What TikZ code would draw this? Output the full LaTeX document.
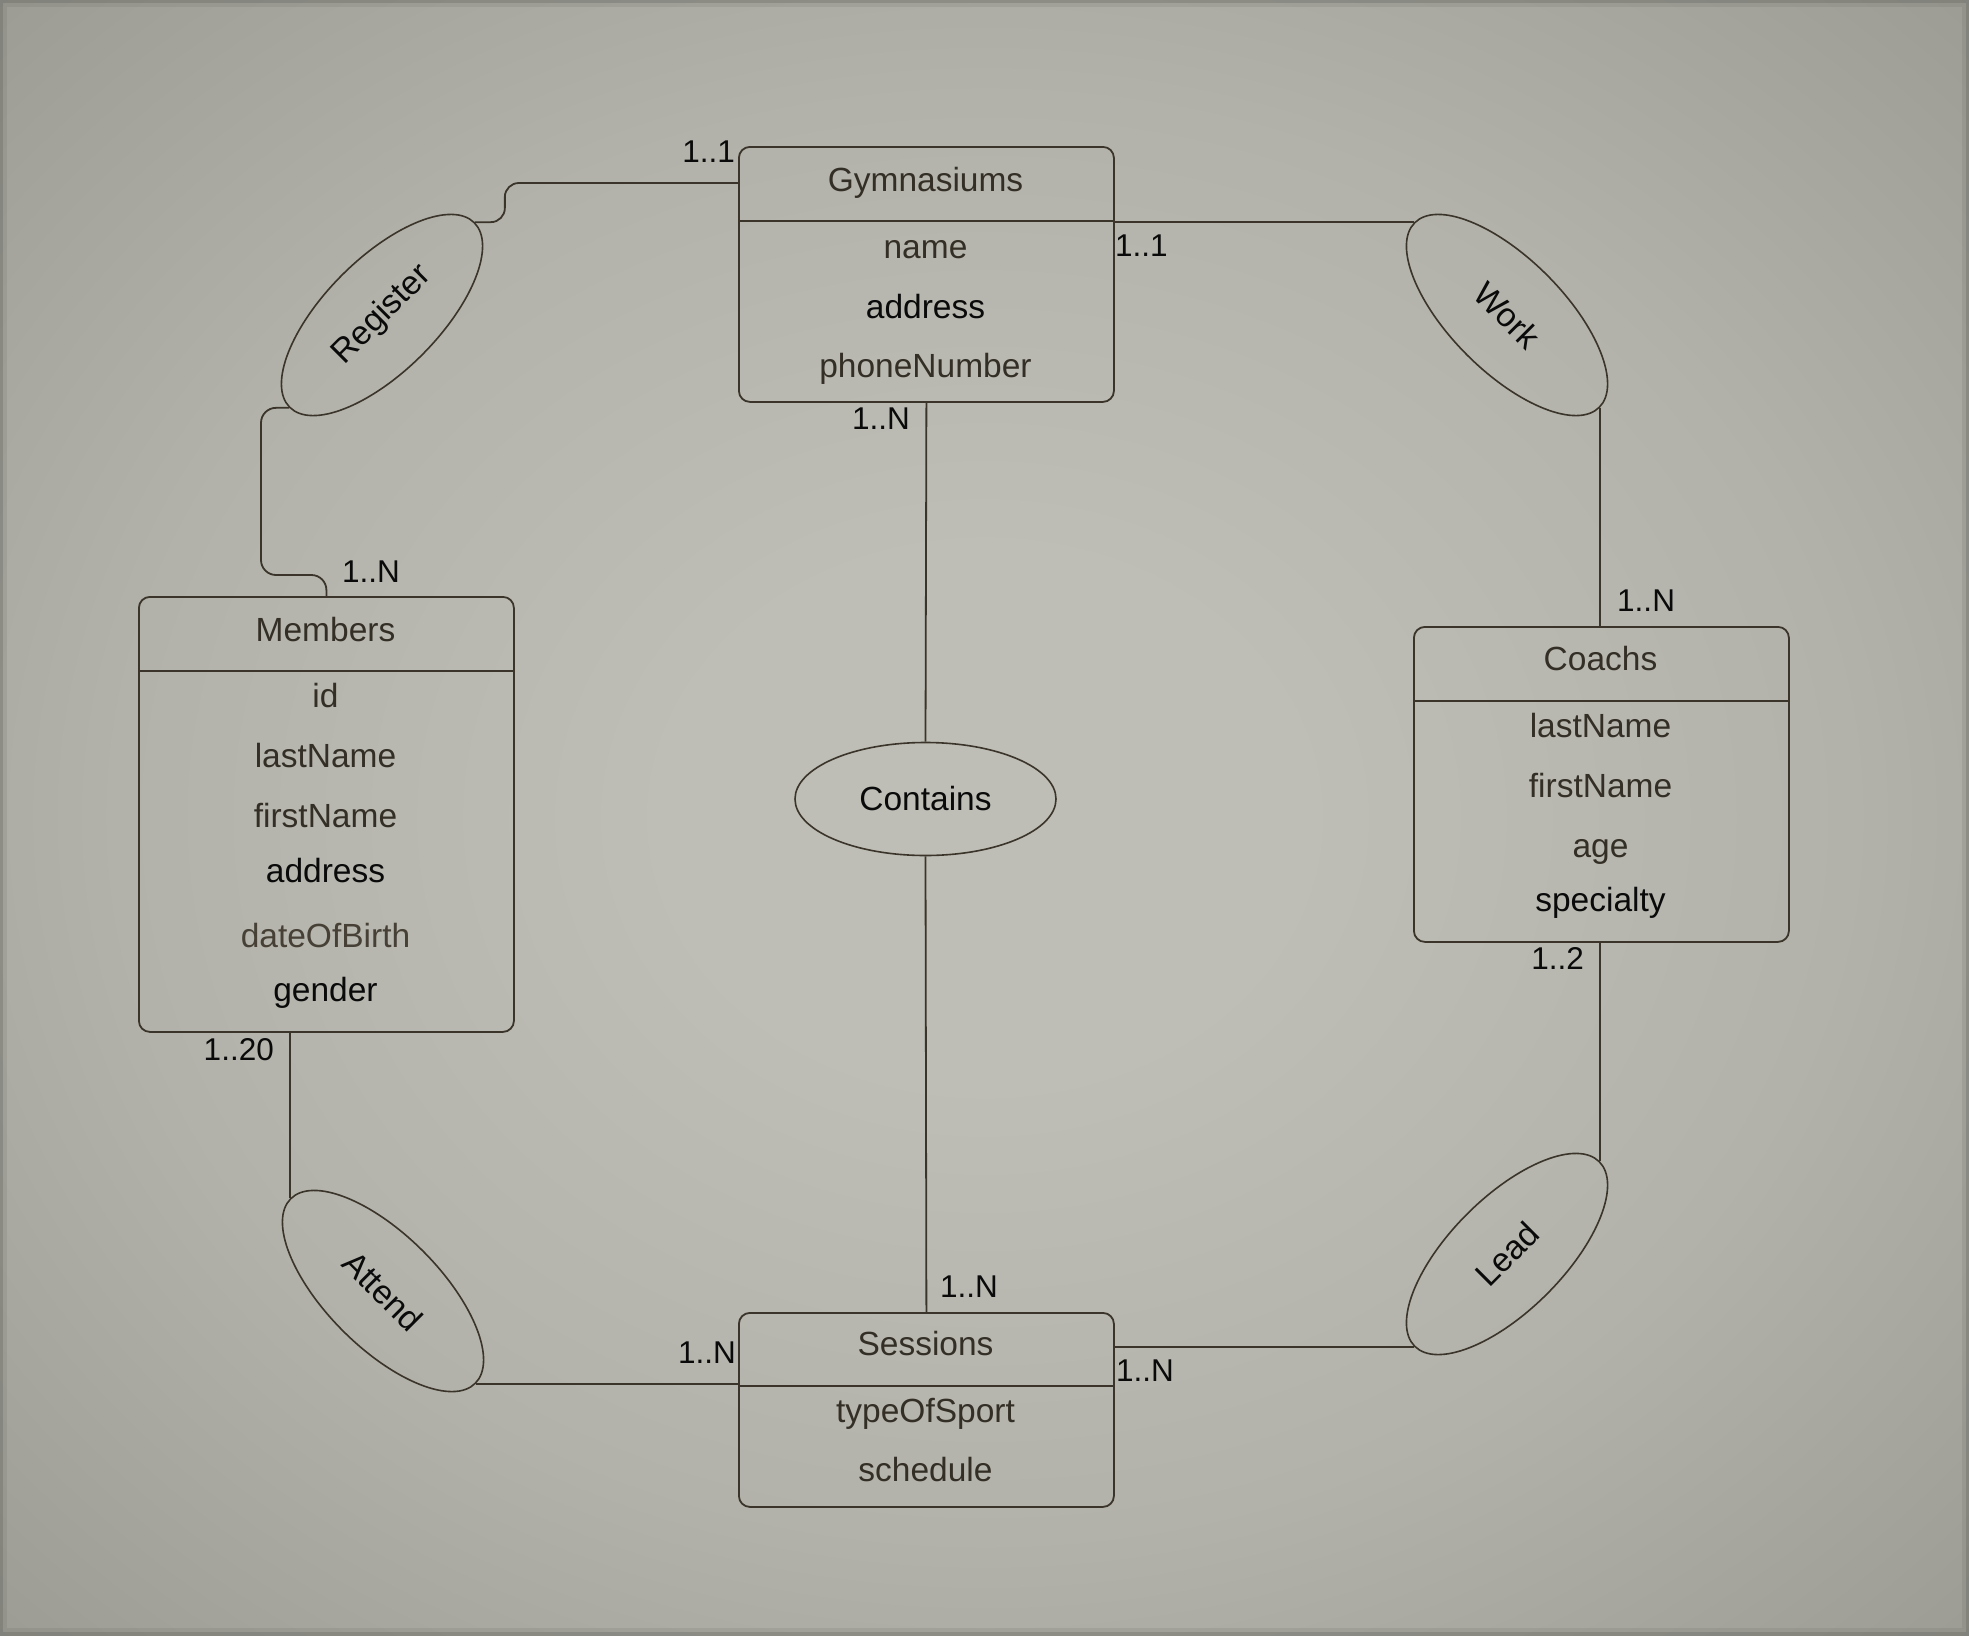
\documentclass[tikz,border=0pt]{standalone}
\usepackage{fontspec}
\setmainfont{Liberation Sans}
\usetikzlibrary{shapes.geometric,calc}

\definecolor{bgin}{RGB}{190,190,182}
\definecolor{bgmid}{RGB}{178,178,170}
\definecolor{bgedge}{RGB}{157,157,149}
\definecolor{bgout}{RGB}{120,120,114}
\definecolor{edgecol}{RGB}{95,95,90}
\definecolor{ink}{RGB}{58,52,42}
\definecolor{txtb}{RGB}{52,47,38}
\definecolor{txtk}{RGB}{10,10,10}
\definecolor{txtl}{RGB}{70,64,54}

\pgfdeclareradialshading{vignette}{\pgfpoint{0bp}{0bp}}{color(0bp)=(bgin); color(8bp)=(bgin); color(22bp)=(bgmid); color(35bp)=(bgedge); color(50bp)=(bgout)}

\begin{document}
\begin{tikzpicture}[x=1pt,y=-1pt,
  entity/.style={draw=ink, line width=1.8pt, rounded corners=11, minimum width=375, minimum height=#1, inner sep=0, anchor=north west},
  attr/.style={anchor=base, inner sep=0, font=\fontsize{33.5pt}{40pt}\selectfont, text=txtb},
  rel/.style={draw=ink, line width=1.6pt, ellipse, minimum width=261, minimum height=113, inner sep=0, font=\fontsize{33.5pt}{40pt}\selectfont, text=txtk},
  conn/.style={draw=ink, line width=1.8pt},
  divider/.style={draw=ink, line width=1.8pt},
  card/.style={inner sep=0, font=\fontsize{31.5pt}{36pt}\selectfont, text=txtk}]

% backdrop
\useasboundingbox (0,0) rectangle (1969,1635);
\shade[shading=vignette] (0,0) rectangle (1969,1635);
\draw[edgecol, line width=14, opacity=0.15] (0,0) rectangle (1969,1635);
\draw[edgecol, line width=6, opacity=0.3] (0,0) rectangle (1969,1635);

% entities
\node[entity=255] (gym) at (738,146) {};
\node[entity=435] (mem) at (138,596) {};
\node[entity=315] (coa) at (1413,626) {};
\node[entity=194] (ses) at (738,1312) {};

\draw[divider] ($(gym.north west)+(0,75)$) -- ($(gym.north east)+(0,75)$);
\draw[divider] ($(mem.north west)+(0,75)$) -- ($(mem.north east)+(0,75)$);
\draw[divider] ($(coa.north west)+(0,75)$) -- ($(coa.north east)+(0,75)$);
\draw[divider] ($(ses.north west)+(0,74)$) -- ($(ses.north east)+(0,74)$);

% Gymnasiums
\node[attr] (gymT) at (925.5,191) {Gymnasiums};
\node[attr] (gymA) at (925.5,258) {name};
\node[attr, text=txtk] (gymB) at (925.5,318) {address};
\node[attr] (gymC) at (925.5,377) {phoneNumber};

% Members
\node[attr] (memT) at (325.5,641) {Members};
\node[attr] (memA) at (325.5,707.7) {id};
\node[attr] (memB) at (325.5,767.7) {lastName};
\node[attr] (memC) at (325.5,827.7) {firstName};
\node[attr, text=txtk] (memD) at (325.5,882.7) {address};
\node[attr, text=txtl] (memE) at (325.5,947.7) {dateOfBirth};
\node[attr, text=txtk] (memF) at (325.5,1001.7) {gender};

% Coachs
\node[attr] (coaT) at (1600.5,670) {Coachs};
\node[attr] (coaA) at (1600.5,737.3) {lastName};
\node[attr] (coaB) at (1600.5,797.3) {firstName};
\node[attr] (coaC) at (1600.5,857.3) {age};
\node[attr, text=txtk] (coaD) at (1600.5,911.7) {specialty};

% Sessions
\node[attr] (sesT) at (925.5,1355) {Sessions};
\node[attr] (sesA) at (925.5,1422.7) {typeOfSport};
\node[attr] (sesB) at (925.5,1481.7) {schedule};

% relationships
\node[rel, rotate=45] (reg) at (382,315) {Register};
\node[rel, rotate=-45] (wrk) at (1507,315) {Work};
\node[rel, rotate=-45] (att) at (383,1291) {Attend};
\node[rel, rotate=45] (led) at (1507,1254) {Lead};
\node[rel] (con) at (925.5,799) {Contains};

% connectors
\draw[conn, rounded corners=14] ($(gym.north west)+(0,37)$) -| ($(reg.east)+(30,0)$) -- (reg.east);
\draw[conn, rounded corners=15] (reg.west) -| (261,575) -| (mem.north);
\draw[conn] (wrk.west) -- (wrk.west -| gym.east);
\draw[conn] (wrk.east) -- (wrk.east |- coa.north);
\draw[conn] (gym.south) -- (con.north);
\draw[conn] (con.south) -- (ses.north);
\draw[conn] (att.west) -- (att.west |- mem.south);
\draw[conn] (att.east) -- (att.east -| ses.west);
\draw[conn] (led.east) -- (led.east |- coa.south);
\draw[conn] (led.west) -- (led.west -| ses.east);

% cardinalities
\node[card, anchor=base east] (c1) at (735,162) {1..1};
\node[card, anchor=base west] (c2) at (342,582) {1..N};
\node[card, anchor=base west] (c3) at (1115,256) {1..1};
\node[card, anchor=base west] (c4) at (1617,611.7) {1..N};
\node[card, anchor=base east] (c5) at (910,429) {1..N};
\node[card, anchor=base east] (c6) at (1584,969.3) {1..2};
\node[card, anchor=base east] (c7) at (274,1060) {1..20};
\node[card, anchor=base east] (c8) at (736,1363) {1..N};
\node[card, anchor=base west] (c9) at (940,1297) {1..N};
\node[card, anchor=base west] (c10) at (1116,1381.7) {1..N};
\end{tikzpicture}
\end{document}
